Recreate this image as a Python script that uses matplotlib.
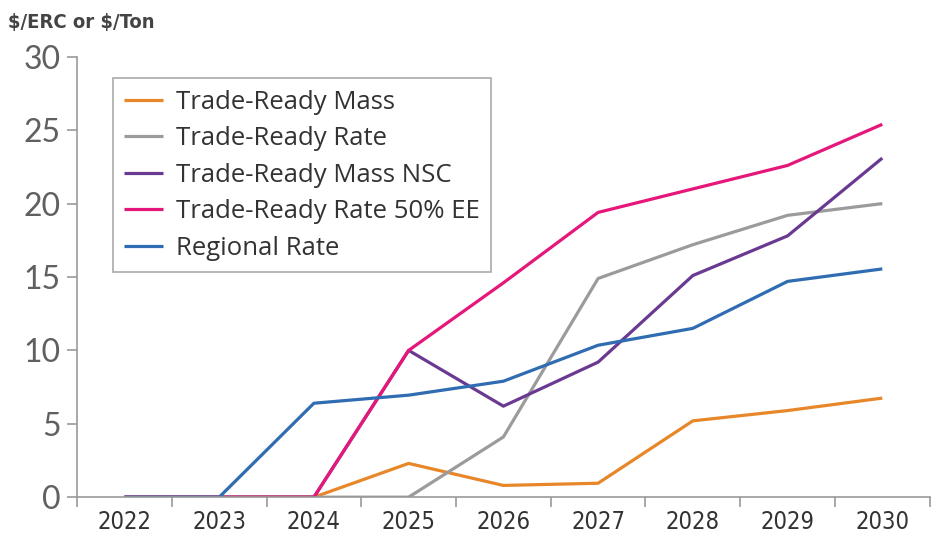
import matplotlib.pyplot as plt
import numpy as np

years = ["2022", "2023", "2024", "2025", "2026", "2027", "2028", "2029", "2030"]

trade_ready_mass = [0, 0, 0, 2.3, 0.8, 0.95, 5.2, 5.9, 6.75]
trade_ready_rate = [0, 0, 0, 0, 4.1, 14.9, 17.2, 19.2, 20.0]
trade_ready_mass_nsc = [0, 0, 0, 10.0, 6.2, 9.2, 15.1, 17.8, 23.1]
trade_ready_rate_50ee = [0, 0, 0, 10.0, 14.6, 19.4, 21.0, 22.6, 25.4]
regional_rate = [0, 0, 6.4, 6.95, 7.9, 10.35, 11.5, 14.7, 15.55]

series = [
    ("Trade-Ready Mass", trade_ready_mass, "#e8872a"),
    ("Trade-Ready Rate", trade_ready_rate, "#9b9b9b"),
    ("Trade-Ready Mass NSC", trade_ready_mass_nsc, "#6a3a92"),
    ("Trade-Ready Rate 50% EE", trade_ready_rate_50ee, "#e6177a"),
    ("Regional Rate", regional_rate, "#2f6cb2"),
]

narrow = ["Liberation Sans Narrow", "DejaVu Sans"]
label_font = ["Open Sans", "DejaVu Sans"]

fig = plt.figure(figsize=(9.4, 5.41), dpi=100)
ax = fig.add_axes([0.082, 0.081, 0.907, 0.814])

x = np.arange(len(years))
for name, vals, col in series:
    ax.plot(x, vals, color=col, linewidth=2.3, label=name, solid_capstyle="butt")

ax.set_xlim(-0.5, len(years) - 0.5)
ax.set_ylim(0, 30)

# category labels sit between the boundary ticks
ax.set_xticks(np.arange(-0.5, len(years)), minor=False)
ax.set_xticklabels([])
ax.set_xticks(x, minor=True)
ax.set_xticklabels(years, minor=True, fontfamily=narrow, fontstretch="condensed",
                   fontsize=17, color="#333333")
ax.tick_params(axis="x", which="minor", length=0, pad=9)
ax.tick_params(axis="x", which="major", length=7, width=1.2, color="#999999")

ax.set_yticks([0, 5, 10, 15, 20, 25, 30])
ax.set_yticklabels(["0", "5", "10", "15", "20", "25", "30"],
                   fontfamily=["Lato", "DejaVu Sans"], fontweight="normal",
                   fontsize=23, color="#606060")
ax.tick_params(axis="y", length=7, width=1.2, color="#999999", pad=5)

for side in ["top", "right"]:
    ax.spines[side].set_visible(False)
for side in ["left", "bottom"]:
    ax.spines[side].set_color("#999999")
    ax.spines[side].set_linewidth(1.2)

leg = ax.legend(loc="upper left", bbox_to_anchor=(0.042, 0.952),
                prop={"family": label_font, "size": 18.5},
                handlelength=1.5, handletextpad=0.5, labelspacing=0.45,
                borderpad=0.45, fancybox=False, framealpha=1,
                edgecolor="#aaaaaa", borderaxespad=0)
leg.get_frame().set_linewidth(1.2)
for t in leg.get_texts():
    t.set_color("#333333")

fig.text(0.009, 0.958, r"\$/ERC or \$/Ton", fontfamily=narrow,
         fontstretch="condensed", fontsize=14.5, fontweight="bold",
         color="#444444", va="center", ha="left")

plt.savefig("out.png", dpi=100)
